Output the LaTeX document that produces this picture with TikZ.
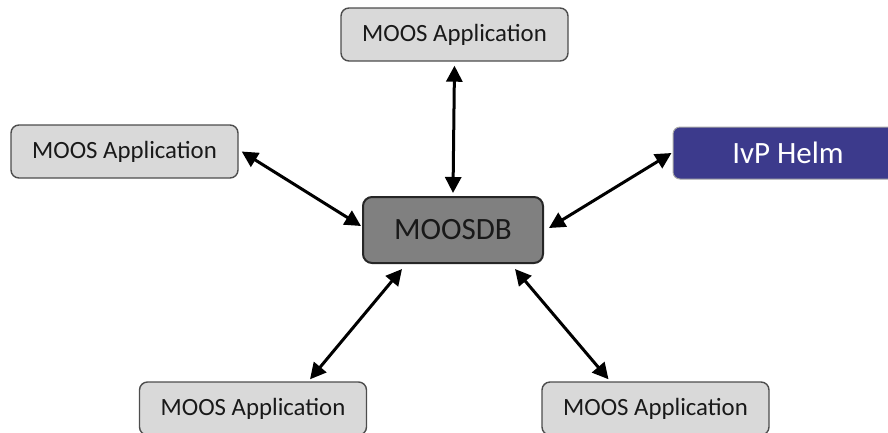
\documentclass[tikz,border=0pt]{standalone}
\usepackage{fontspec}
\setmainfont{Carlito}
\usetikzlibrary{arrows.meta}
\definecolor{appfill}{HTML}{D9D9D9}
\definecolor{appdraw}{HTML}{4D4D4D}
\definecolor{dbfill}{HTML}{808080}
\definecolor{helmfill}{HTML}{3C3A8C}
\tikzset{
  appbox/.style={draw=appdraw, line width=1.4pt, fill=appfill, rounded corners=8pt,
    minimum width=227pt, minimum height=53pt, inner sep=0pt,
    font=\fontsize{24.8}{28}\selectfont, text=black!90},
  dbbox/.style={draw=black!85, line width=2pt, fill=dbfill, rounded corners=9pt,
    minimum width=180pt, minimum height=66pt, inner sep=0pt,
    font=\fontsize{31}{36}\selectfont, text=black!90},
  helmbox/.style={draw=gray!70, line width=1pt, fill=helmfill, rounded corners=7pt,
    minimum width=230pt, minimum height=52pt, inner sep=0pt,
    font=\fontsize{31}{36}\selectfont, text=white},
  link/.style={line width=3pt, black,
    {Triangle[length=16pt,width=16pt]}-{Triangle[length=16pt,width=16pt]}}
}
\begin{document}
\begin{tikzpicture}[x=1pt,y=-1pt]
\useasboundingbox (0,0) rectangle (888,432);
\clip (0,0) rectangle (888,432);
\node[appbox] (tapp) at (454.5,34.5) {MOOS Application};
\node[appbox] (lapp) at (124.5,151.5) {MOOS Application};
\node[helmbox] (helm) at (788,153) {IvP Helm};
\node[dbbox] (db) at (453,230) {MOOSDB};
\node[appbox] (blapp) at (253,408.5) {MOOS Application};
\node[appbox] (brapp) at (655.5,408.5) {MOOS Application};
\draw[link] ([yshift=-4pt]tapp.south) -- ([yshift=3pt]db.north);
\draw[link] ([xshift=3pt]lapp.east) -- ([xshift=-1pt,yshift=4pt]db.west);
\draw[link] ([xshift=-1pt]helm.west) -- ([xshift=5pt,yshift=2pt]db.east);
\draw[link] ([xshift=57pt,yshift=2pt]blapp.north) -- ([xshift=-51pt,yshift=-5pt]db.south);
\draw[link] ([xshift=-47pt,yshift=2pt]brapp.north) -- ([xshift=62pt,yshift=-5pt]db.south);
\end{tikzpicture}
\end{document}
